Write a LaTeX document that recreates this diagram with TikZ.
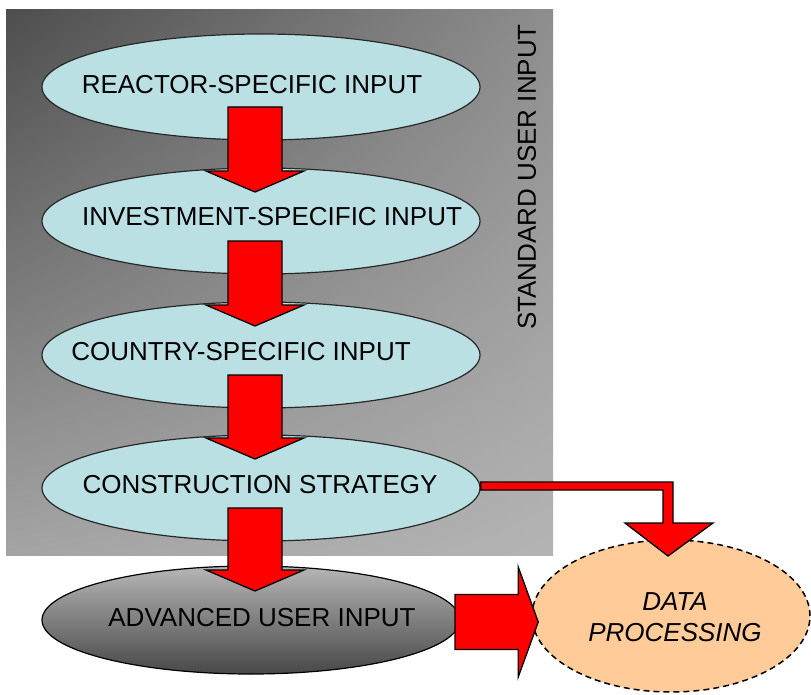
\documentclass[tikz,border=0pt]{standalone}
\usepackage{fontspec}
\setmainfont{Liberation Sans}
\usetikzlibrary{shapes.geometric,calc,shadings}
\definecolor{cyanfill}{RGB}{186,224,228}
\definecolor{peachfill}{RGB}{255,204,153}
\definecolor{ellline}{RGB}{40,40,40}
\definecolor{advtop}{RGB}{182,182,182}
\definecolor{advbot}{RGB}{72,72,72}
\definecolor{bgul}{RGB}{78,78,78}
\definecolor{bgur}{RGB}{142,142,142}
\definecolor{bgll}{RGB}{164,164,164}
\definecolor{bglr}{RGB}{180,180,180}
\newcommand\blockdown[3]{%
  \coordinate (#3s) at ($(#1.center)+(-6,20)$);
  \coordinate (#3t) at ($(#3s |- #2.center)+(0,-29)$);
  \draw[blockarrow] ($(#3s)+(-27,0)$) -- ($(#3s)+(27,0)$) -- ($(#3t)+(27,-21)$)
    -- ($(#3t)+(49,-21)$) -- (#3t) -- ($(#3t)+(-49,-21)$) -- ($(#3t)+(-27,-21)$) -- cycle;}
\begin{document}
\begin{tikzpicture}[x=1pt,y=-1pt,
  ell/.style={ellipse, draw=ellline, line width=1.2pt, fill=cyanfill, inner sep=0pt,
              minimum width=438pt, minimum height=106pt},
  lbl/.style={font=\fontsize{26}{31}\selectfont, inner sep=0pt, text=black},
  blockarrow/.style={fill=red, draw=black, line width=1.3pt, line join=miter}]
\useasboundingbox (0,0) rectangle (811,695);
\fill[white] (0,0) rectangle (811,695);
% background panel
\shade[shading=bilinear interpolation, upper left=bgul, upper right=bgur, lower left=bgll, lower right=bglr] (6,10) rectangle (553,555);
\node[lbl, rotate=90] (std) at (527,177) {STANDARD USER INPUT};
% ellipses
\node[ell] (e1) at (261,87) {};
\node[ell] (e2) at (261,221) {};
\node[ell] (e3) at (261,355) {};
\node[ell] (e4) at (261,488) {};
\node[ellipse, draw=black, line width=1.2pt, top color=advtop, bottom color=advbot,
      inner sep=0pt, minimum width=418pt, minimum height=108pt] (e5) at (251,620) {};
\node[ellipse, draw=black, line width=1.5pt, dash pattern=on 6pt off 4pt, fill=peachfill,
      inner sep=0pt, minimum width=278pt, minimum height=152pt] (e6) at (671,616) {};
% labels
\node[lbl] (t1) at (252,85) {REACTOR-SPECIFIC INPUT};
\node[lbl] (t2) at (272,217) {INVESTMENT-SPECIFIC INPUT};
\node[lbl] (t3) at (241,352) {COUNTRY-SPECIFIC INPUT};
\node[lbl] (t4) at (260,485) {CONSTRUCTION STRATEGY};
\node[lbl] (t5) at (262,618) {ADVANCED USER INPUT};
\node[lbl, font=\fontsize{26}{31}\selectfont\itshape, align=center] (t6) at (675,617) {DATA\\PROCESSING};
% block arrows down
\blockdown{e1}{e2}{a1}
\blockdown{e2}{e3}{a2}
\blockdown{e3}{e4}{a3}
\blockdown{e4}{e5}{a4}
% right block arrow
\coordinate (rs) at ($(e5.center)+(204,2)$);
\coordinate (rt) at ($(rs -| e6.west)+(7,0)$);
\draw[blockarrow] ($(rs)+(0,-27.5)$) -- ($(rt)+(-20,-27.5)$) -- ($(rt)+(-20,-55)$) -- (rt)
  -- ($(rt)+(-20,55)$) -- ($(rt)+(-20,27.5)$) -- ($(rs)+(0,27.5)$) -- cycle;
% bent arrow
\coordinate (b0) at ($(e4.east)+(0,-2)$);
\coordinate (bc) at ($(b0 -| e6.north)+(-3,0)$);
\draw[blockarrow] ($(b0)+(0,-4)$) -- ($(bc)+(5,-4)$) -- ($(bc)+(5,37)$) -- ($(bc)+(45,37)$)
  -- ($(bc)+(0,70)$) -- ($(bc)+(-43,37)$) -- ($(bc)+(-5,37)$) -- ($(bc)+(-5,4)$)
  -- ($(b0)+(0,4)$) -- cycle;
\end{tikzpicture}
\end{document}
